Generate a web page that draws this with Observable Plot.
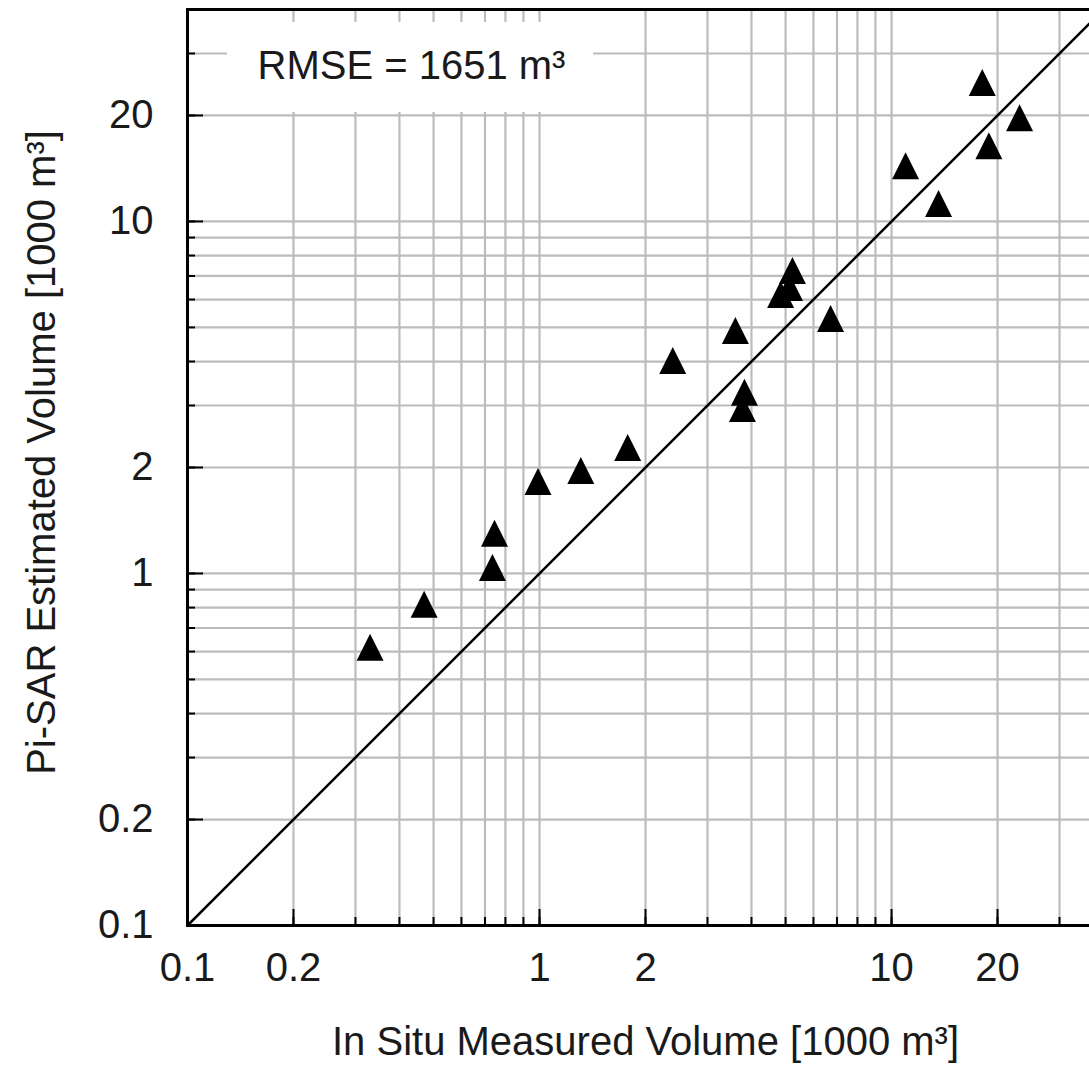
<!DOCTYPE html>
<html>
<head>
<meta charset="utf-8">
<script src="https://cdn.jsdelivr.net/npm/d3@7"></script>
<script src="https://cdn.jsdelivr.net/npm/@observablehq/plot@0.6"></script>
<style>
  html, body { margin: 0; padding: 0; background: #fff; overflow: hidden; }
  #wrap { width: 1089px; height: 1066px; overflow: hidden; }
  #wrap svg { max-width: none !important; width: 1103px !important; height: 1066px !important; }
  svg text { font-family: "Liberation Sans", Arial, sans-serif; }
</style>
</head>
<body>
<div id="wrap"></div>
<script>
// In situ measured volume [1000 m3]
const inSitu = [0.33, 0.47, 0.735, 0.745, 0.99, 1.31, 1.78, 2.39, 3.60, 3.82, 3.77,
                4.84, 5.13, 5.23, 6.71, 10.96, 13.6, 18.1, 18.9, 23.1];
// Pi-SAR estimated volume [1000 m3]
const piSar  = [0.617, 0.817, 1.04, 1.30, 1.825, 1.96, 2.28, 4.03, 4.90, 3.27, 2.94,
                6.20, 6.49, 7.26, 5.30, 14.4, 11.25, 24.8, 16.4, 19.7];

const axisDomain = [0.1, 40];
const oneToOne = [0.1, 40];
const labelTicks = [0.1, 0.2, 1, 2, 10, 20];
const gridValues = [0.1, 0.2, 0.3, 0.4, 0.5, 0.6, 0.7, 0.8, 0.9,
                    1, 2, 3, 4, 5, 6, 7, 8, 9,
                    10, 20, 30, 40];
const rmseText = ["RMSE = 1651 m³"];
const xLabel = ["In Situ Measured Volume [1000 m³]"];
const yLabel = ["Pi-SAR Estimated Volume [1000 m³]"];

const points = inSitu.map((x, i) => ({x, y: piSar[i]}));

const tri = {
  draw(ctx) {
    const w = 27, h = 27;
    ctx.moveTo(0, -h / 2);
    ctx.lineTo(w / 2, h / 2);
    ctx.lineTo(-w / 2, h / 2);
    ctx.closePath();
  }
};

const W = 1103, H = 1066, ML = 187, MT = 9, MB = 141;
const plotH = H - MT - MB, plotW = W - ML;
const font = "Liberation Sans, Arial, sans-serif";
const ink = "#1a1a1a";
const FS = 40;

const whiteBox = (index, scales, values, dims) => {
  const r = document.createElementNS("http://www.w3.org/2000/svg", "rect");
  r.setAttribute("x", dims.marginLeft + 40);
  r.setAttribute("y", dims.marginTop + 13);
  r.setAttribute("width", 366);
  r.setAttribute("height", 90);
  r.setAttribute("fill", "white");
  return r;
};

const chart = Plot.plot({
  width: W, height: H,
  marginLeft: ML, marginRight: 0, marginTop: MT, marginBottom: MB,
  style: {fontFamily: font, background: "white", color: ink},
  x: {type: "log", domain: axisDomain, axis: null},
  y: {type: "log", domain: axisDomain, axis: null},
  marks: [
    Plot.gridX(gridValues, {stroke: "#bcbcbc", strokeOpacity: 1, strokeWidth: 2.2}),
    Plot.gridY(gridValues, {stroke: "#bcbcbc", strokeOpacity: 1, strokeWidth: 2.2}),
    whiteBox,
    // minor ticks (inside)
    Plot.tickX(gridValues, {x: d => d, stroke: "black", strokeWidth: 2, insetTop: plotH - 8}),
    Plot.tickY(gridValues, {y: d => d, stroke: "black", strokeWidth: 2, insetRight: plotW - 8}),
    // major ticks (inside)
    Plot.tickX(labelTicks, {x: d => d, stroke: "black", strokeWidth: 2, insetTop: plotH - 16}),
    Plot.tickY(labelTicks, {y: d => d, stroke: "black", strokeWidth: 2, insetRight: plotW - 16}),
    Plot.axisX(labelTicks, {anchor: "bottom", label: null, tickSize: 0, tickPadding: 27, fontSize: FS,
      tickFormat: d => String(d), fill: ink}),
    Plot.axisY(labelTicks, {anchor: "left", label: null, tickSize: 0, tickPadding: 34, fontSize: FS,
      tickFormat: d => String(d), fill: ink}),
    Plot.line(oneToOne, {x: d => d, y: d => d, stroke: "black", strokeWidth: 2.5}),
    Plot.dot(points, {x: "x", y: "y", symbol: tri, fill: "black", stroke: "none", r: 10}),
    Plot.frame({stroke: "black", strokeWidth: 3}),
    Plot.text(rmseText, {frameAnchor: "top-left", dx: 70, dy: 57, textAnchor: "start",
      lineAnchor: "middle", fontSize: FS, fill: ink}),
    Plot.text(xLabel, {frameAnchor: "bottom", dy: 117, textAnchor: "middle", lineAnchor: "middle",
      fontSize: FS, fill: ink}),
    Plot.text(yLabel, {frameAnchor: "left", dx: -145, dy: -15, rotate: -90, textAnchor: "middle",
      lineAnchor: "middle", fontSize: FS, fill: ink})
  ]
});
document.getElementById("wrap").appendChild(chart);
</script>
</body>
</html>
